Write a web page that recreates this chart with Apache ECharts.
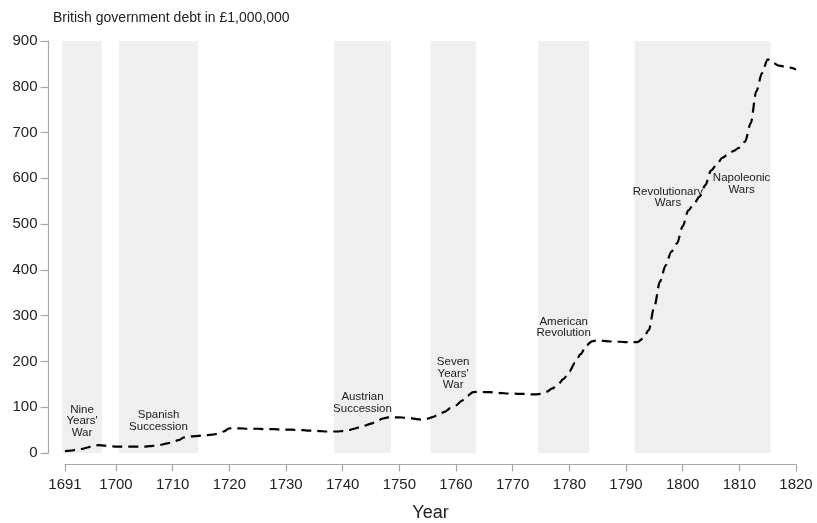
<!DOCTYPE html>
<html>
<head>
<meta charset="utf-8">
<script src="https://cdn.jsdelivr.net/npm/echarts@6/dist/echarts.min.js"></script>
<style>html,body{margin:0;padding:0;background:#fff}#c{width:817px;height:523px}</style>
</head>
<body>
<div id="c"></div>
<script>
// ---- data ----
const years = [];
for (let y = 1691; y <= 1820; y++) years.push(y);
const debt = [
  4, 5, 7, 9, 12, 16, 17, 16, 15, 14,            // 1691-1700
  14, 14, 14, 14, 14, 15, 16, 18, 21, 24,        // 1701-1710
  28, 34, 36, 37, 38, 39, 40, 42, 47, 54,        // 1711-1720
  54, 54, 53, 53, 53, 52, 52, 52, 51, 51,        // 1721-1730
  51, 50, 50, 49, 49, 48, 47, 47, 47, 48,        // 1731-1740
  50, 53, 56, 60, 64, 69, 75, 78, 78, 78,        // 1741-1750
  77, 76, 74, 73, 75, 79, 85, 90, 98, 104,       // 1751-1760
  114, 125, 133, 134, 133, 133, 132, 131, 130, 130, // 1761-1770
  129, 129, 128, 128, 129, 134, 141, 150, 162, 178, // 1771-1780
  197, 216, 235, 244, 246, 245, 244, 243, 243, 242, // 1781-1790
  242, 242, 250, 268, 320, 375, 410, 440, 458, 495, // 1791-1800
  530, 545, 560, 585, 617, 630, 645, 652, 660, 667, // 1801-1810
  680, 720, 790, 830, 860, 852, 846, 844, 842, 838  // 1811-1820
];
const xTicks = [1691, 1700, 1710, 1720, 1730, 1740, 1750, 1760, 1770, 1780, 1790, 1800, 1810, 1820];
const warStart = [1691, 1701, 1739, 1756, 1775, 1792];
const warEnd   = [1697, 1714, 1748, 1763, 1783, 1815];
const warNames = ["Nine\nYears'\nWar", "Spanish\nSuccession", "Austrian\nSuccession", "Seven\nYears'\nWar", "American\nRevolution", "Revolutionary\nWars", "Napoleonic\nWars"];
const warLabelYear  = [1694, 1707.5, 1743.5, 1759.5, 1779, 1797.4, 1810.4];
const warLabelValue = [70, 70, 110, 174, 274, 558, 588];
const yMax = 900;

// ---- chart ----
const font = "'Liberation Sans', Arial, Helvetica, sans-serif";
const axisGray = '#a6a6a6';
const chart = echarts.init(document.getElementById('c'), null, {renderer: 'canvas'});
const lineData = years.map((y, i) => [y, debt[i]]);
const bandData = warStart.map((s, i) => [s - 0.5, warEnd[i] + 0.5]);
const labelData = warNames.map((n, i) => ({value: [warLabelYear[i], warLabelValue[i]], name: n}));

chart.setOption({
  animation: false,
  backgroundColor: '#ffffff',
  textStyle: {fontFamily: font},
  title: {
    text: 'British government debt in £1,000,000',
    left: 48, top: 6,
    textStyle: {fontFamily: font, fontSize: 14, fontWeight: 'normal', color: '#222'}
  },
  grid: {left: 65, right: 21, top: 41, bottom: 70, containLabel: false, outerBoundsMode: 'none'},
  xAxis: {
    type: 'value', min: 1691, max: 1820,
    offset: 11.5,
    name: 'Year', nameLocation: 'middle', nameGap: 40,
    nameTextStyle: {fontFamily: font, fontSize: 18, color: '#222'},
    axisLine: {show: true, onZero: false, lineStyle: {color: axisGray, width: 1.2}},
    axisTick: {show: true, length: 7, customValues: xTicks, lineStyle: {color: axisGray, width: 1.2}},
    axisLabel: {customValues: xTicks, fontFamily: font, fontSize: 15, color: '#222', margin: 13,
                formatter: v => String(v)},
    splitLine: {show: false}
  },
  yAxis: {
    type: 'value', min: 0, max: yMax, interval: 100,
    offset: 16.5,
    axisLine: {show: true, onZero: false, lineStyle: {color: axisGray, width: 1.2}},
    axisTick: {show: true, length: 8, lineStyle: {color: axisGray, width: 1.2}},
    axisLabel: {fontFamily: font, fontSize: 15, color: '#222', margin: 11},
    splitLine: {show: false}
  },
  series: [
    {
      type: 'custom',
      data: bandData,
      silent: true,
      clip: false,
      z: 1,
      renderItem: (params, api) => {
        const p0 = api.coord([api.value(0), yMax]);
        const p1 = api.coord([api.value(1), 0]);
        return {type: 'rect', shape: {x: p0[0], y: p0[1], width: p1[0] - p0[0], height: p1[1] - p0[1]},
                style: {fill: '#efefef'}};
      }
    },
    {
      type: 'line',
      data: lineData,
      clip: false,
      smooth: 0.3,
      smoothMonotone: 'x',
      showSymbol: false,
      symbol: 'none',
      lineStyle: {color: '#000', width: 2.2, type: [10, 6]},
      z: 3
    },
    {
      type: 'scatter',
      data: labelData,
      symbolSize: 1,
      itemStyle: {color: 'rgba(0,0,0,0)'},
      silent: true,
      z: 4,
      label: {
        show: true, position: 'inside',
        formatter: p => p.name,
        fontFamily: font, fontSize: 11.5, lineHeight: 11.5, color: '#1a1a1a', align: 'center',
        opacity: 1
      }
    }
  ]
});
</script>
</body>
</html>
